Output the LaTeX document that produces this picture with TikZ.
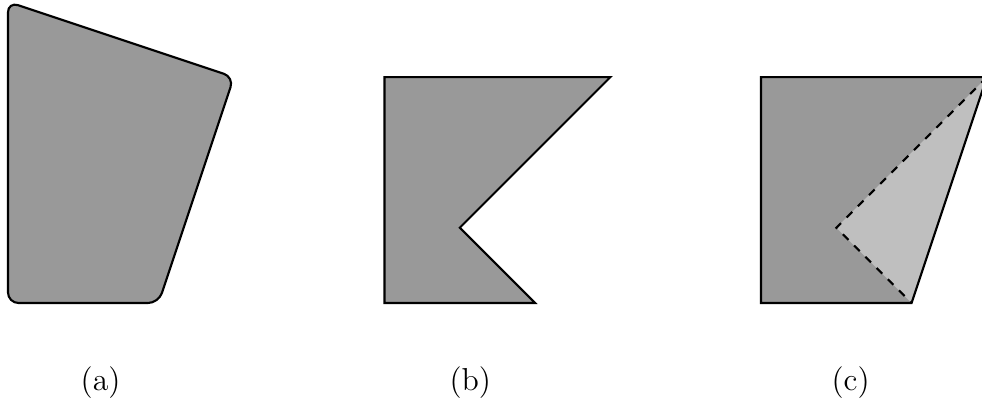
\documentclass[tikz,border=0pt]{standalone}
\usepackage{tikz}

\begin{document}
\begin{tikzpicture}[region/.style={draw,thick,fill=gray!80}]
    \useasboundingbox (-0.106,-1.262) rectangle (12.935,4.024);
    \draw[region,rounded corners] (0,0) -- (2,0) -- (3,3) -- (0,4) -- cycle;
    \draw[region] (5,0) -- (7,0) -- (6,1) -- (8,3) -- (5,3) -- cycle;
    \fill[gray!80] (10,0) -- (12,0) -- (13,3) -- (10,3) -- cycle;
    \fill[gray!50] (11,1) -- (13,3) -- (12,0) -- cycle;
    \draw[thick,dashed] (13,3) -- (11,1) -- (12,0);
    \draw[thick] (10,0) -- (12,0) -- (13,3) -- (10,3) -- cycle;
    \foreach \x/\lbl in {1.23/a,6.14/b,11.19/c} \node (cap\lbl) at (\x,-1.05) {\large (\lbl)};
\end{tikzpicture}
\end{document}
